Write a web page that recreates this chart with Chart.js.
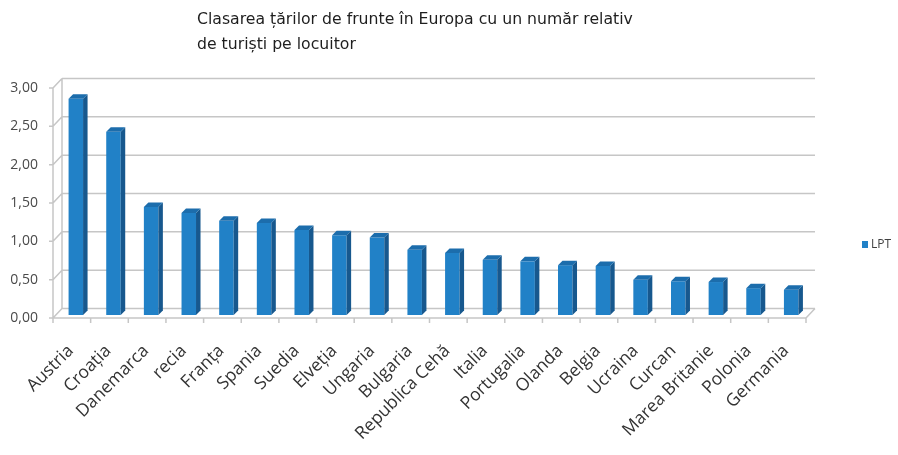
<!DOCTYPE html>
<html>
<head>
  <title>Clasarea țărilor de frunte în Europa</title>
  <script src="https://cdn.jsdelivr.net/npm/chart.js"></script>
  <style>
    body {
      margin: 0;
      background-color: #fff;
    }

    .wrap {
      position: relative;
      width: 898px;
      height: 455px;
    }

    .titlu {
      position: absolute;
      left: 197px;
      top: 6px;
      font-family: "DejaVu Sans", sans-serif;
      font-size: 15.7px;
      line-height: 25px;
      color: #1e1e1e;
    }

    canvas {
      position: absolute;
      left: 0;
      top: 0;
    }
  </style>
</head>
<body>
  <div class="wrap">
    <canvas id="lptChart" width="898" height="455"></canvas>
    <div class="titlu">Clasarea țărilor de frunte în Europa cu un număr relativ<br>de turiști pe locuitor</div>
  </div>

  <script>
    const tari = ['Austria', 'Croația', 'Danemarca', 'recia', 'Franța', 'Spania', 'Suedia', 'Elveția', 'Ungaria', 'Bulgaria',
      'Republica Cehă', 'Italia', 'Portugalia', 'Olanda', 'Belgia', 'Ucraina', 'Curcan', 'Marea Britanie', 'Polonia', 'Germania'];
    const lpt = [2.82, 2.39, 1.41, 1.33, 1.23, 1.20, 1.11, 1.04, 1.01, 0.85,
      0.81, 0.72, 0.70, 0.65, 0.64, 0.46, 0.44, 0.43, 0.35, 0.33];
    const numeSerie = 'LPT';
    const yValori = [0, 0.5, 1, 1.5, 2, 2.5, 3];
    const yEtichete = ['0,00', '0,50', '1,00', '1,50', '2,00', '2,50', '3,00'];

    const albastru = '#2181c7';
    const albastruLateral = '#17588e';
    const albastruSus = '#1c6dac';
    const gri = '#c6c6c6';

    // adancimea peretelui din spate si a barelor (efect 3D)
    const perete = { dx: 9, dy: 9.5 };
    const bara = { dx: 4, dy: -3, adancime: 4.5 };

    const efect3d = {
      id: 'efect3d',
      beforeDatasetsDraw(chart) {
        const ctx = chart.ctx;
        const { left, right, top, bottom } = chart.chartArea;
        const ys = chart.scales.y;

        ctx.save();
        ctx.strokeStyle = gri;
        ctx.lineWidth = 1.5;
        ctx.beginPath();
        yValori.forEach(v => {
          const y = ys.getPixelForValue(v);
          ctx.moveTo(left + perete.dx, y - perete.dy);
          ctx.lineTo(right + perete.dx, y - perete.dy);
          ctx.moveTo(left, y);
          ctx.lineTo(left + perete.dx, y - perete.dy);
          ctx.moveTo(left - 4, y);
          ctx.lineTo(left, y);
        });
        ctx.moveTo(left, top);
        ctx.lineTo(left, bottom);
        ctx.moveTo(left + perete.dx, top - perete.dy);
        ctx.lineTo(left + perete.dx, bottom - perete.dy);
        ctx.moveTo(left, bottom);
        ctx.lineTo(right, bottom);
        ctx.lineTo(right + perete.dx, bottom - perete.dy);
        const pas = (right - left) / tari.length;
        for (let i = 0; i <= tari.length; i++) {
          ctx.moveTo(left + i * pas, bottom);
          ctx.lineTo(left + i * pas, bottom + 5);
        }
        ctx.stroke();
        ctx.restore();

        ctx.save();
        ctx.translate(bara.dx, bara.dy);
      },
      afterDatasetsDraw(chart) {
        const ctx = chart.ctx;
        const d = bara.adancime;
        chart.getDatasetMeta(0).data.forEach(el => {
          const st = el.x - el.width / 2;
          const dr = el.x + el.width / 2;
          ctx.fillStyle = albastruLateral;
          ctx.beginPath();
          ctx.moveTo(dr, el.y);
          ctx.lineTo(dr + d, el.y - d);
          ctx.lineTo(dr + d, el.base - d);
          ctx.lineTo(dr, el.base);
          ctx.closePath();
          ctx.fill();
          ctx.fillStyle = albastruSus;
          ctx.beginPath();
          ctx.moveTo(st, el.y);
          ctx.lineTo(st + d, el.y - d);
          ctx.lineTo(dr + d, el.y - d);
          ctx.lineTo(dr, el.y);
          ctx.closePath();
          ctx.fill();
        });
        ctx.restore();
      },
      afterDraw(chart) {
        const ctx = chart.ctx;
        const xs = chart.scales.x;
        const bottom = chart.chartArea.bottom;

        // etichetele tarilor, rotite la 45 de grade
        ctx.save();
        ctx.fillStyle = '#333';
        ctx.font = '17.5px "Open Sans"';
        ctx.textAlign = 'right';
        ctx.textBaseline = 'middle';
        tari.forEach((t, i) => {
          ctx.save();
          ctx.translate(xs.getPixelForValue(i) - 1, bottom + 30);
          ctx.rotate(-Math.PI / 4);
          ctx.fillText(t, 0, 0);
          ctx.restore();
        });
        ctx.restore();

        // legenda
        ctx.save();
        ctx.fillStyle = albastru;
        ctx.fillRect(862, 241, 6, 7);
        ctx.fillStyle = '#404040';
        ctx.font = '12px "Open Sans"';
        ctx.textBaseline = 'middle';
        ctx.fillText(numeSerie, 871, 245);
        ctx.restore();
      }
    };

    new Chart(document.getElementById('lptChart'), {
      type: 'bar',
      data: {
        labels: tari,
        datasets: [{
          label: numeSerie,
          data: lpt,
          backgroundColor: albastru,
          borderWidth: 0,
          barPercentage: 0.385,
          categoryPercentage: 1,
          clip: false
        }]
      },
      options: {
        responsive: false,
        animation: false,
        layout: {
          padding: { top: 88, right: 92, bottom: 0, left: 0 }
        },
        plugins: {
          legend: { display: false },
          tooltip: { enabled: false }
        },
        scales: {
          x: {
            grid: { display: false, drawTicks: false },
            border: { display: false },
            ticks: { display: false },
            afterFit(scale) {
              scale.height = 137;
            }
          },
          y: {
            min: 0,
            max: 3,
            grid: { display: false, drawTicks: false },
            border: { display: false },
            afterBuildTicks(scale) {
              scale.ticks = yValori.map(v => ({ value: v }));
            },
            ticks: {
              padding: 15,
              color: '#4a4a4a',
              font: { family: 'Open Sans', size: 14 },
              callback: function(value) {
                return yEtichete[yValori.indexOf(value)];
              }
            },
            afterFit(scale) {
              scale.width = 53;
            }
          }
        }
      },
      plugins: [efect3d]
    });
  </script>
</body>
</html>
